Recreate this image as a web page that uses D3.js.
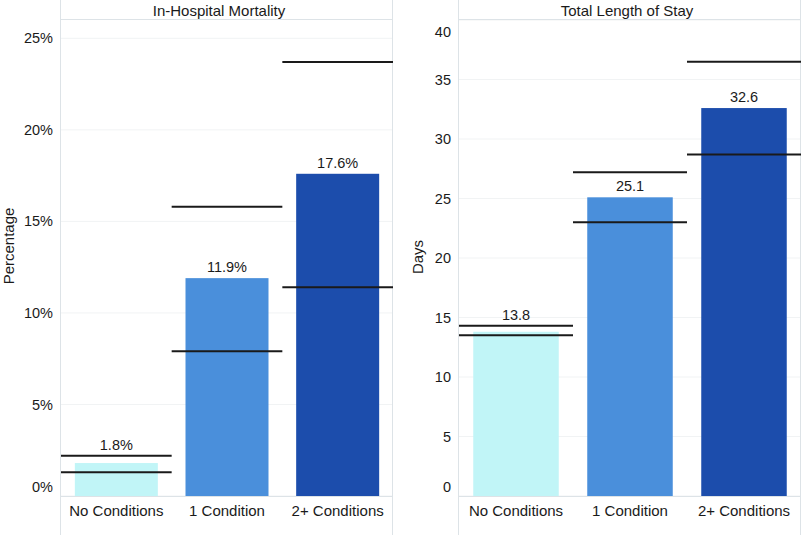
<!DOCTYPE html>
<html>
<head>
<meta charset="utf-8">
<script src="https://cdn.jsdelivr.net/npm/d3@7"></script>
<style>
  html, body { margin: 0; padding: 0; background: #fff; }
  svg { display: block; font-family: 'Liberation Sans', Arial, sans-serif; }
</style>
</head>
<body>
<div id="chart"></div>
<script>
// categories and values
const categories = ['No Conditions', '1 Condition', '2+ Conditions']
const barColors = ['#c1f5f7', '#4a8fdb', '#1c4dac']

const mortality = [1.8, 11.9, 17.6]
const mortalityLower = [1.3, 7.9, 11.4]
const mortalityUpper = [2.2, 15.8, 23.7]
const mortalityTicks = [0, 5, 10, 15, 20, 25]

const stay = [13.8, 25.1, 32.6]
const stayLower = [13.5, 23.0, 28.7]
const stayUpper = [14.3, 27.2, 36.5]
const stayTicks = [0, 5, 10, 15, 20, 25, 30, 35, 40]

const W = 802
const H = 535
const BORDER = '#dde3e7'

const svg = d3.select('#chart')
  .append('svg')
  .attr('width', W)
  .attr('height', H)

function drawPanel (opts) {
  const { x0, x1, top, bottom, title, titleX, yLabel, yLabelX, yLabelY, values, lower, upper, ticks, max, fmt } = opts

  const x = d3.scaleBand().domain(categories).range([x0, x1]).padding(0)
  const y = d3.scaleLinear().domain([0, max]).range([bottom, top])

  const g = svg.append('g').attr('class', 'panel')

  // grid
  g.append('g')
    .selectAll('line')
    .data(ticks)
    .join('line')
    .attr('x1', x0)
    .attr('x2', x1)
    .attr('y1', d => y(d))
    .attr('y2', d => y(d))
    .attr('stroke', '#f1f3f4')
    .attr('stroke-width', 1)

  // borders and strip
  g.append('line').attr('x1', x0 - 0.5).attr('x2', x0 - 0.5).attr('y1', 0).attr('y2', H)
    .attr('stroke', BORDER)
  g.append('line').attr('x1', x1 - 0.5).attr('x2', x1 - 0.5).attr('y1', 0).attr('y2', H)
    .attr('stroke', BORDER)
  g.append('line').attr('x1', x0).attr('x2', x1).attr('y1', top - 0.5).attr('y2', top - 0.5)
    .attr('stroke', BORDER)
  g.append('line').attr('x1', x0).attr('x2', x1).attr('y1', bottom + 0.5).attr('y2', bottom + 0.5)
    .attr('stroke', BORDER)

  g.append('text')
    .attr('x', titleX)
    .attr('y', 16)
    .attr('text-anchor', 'middle')
    .attr('font-size', 15)
    .attr('fill', '#1a1a1a')
    .text(title)

  // bars
  const barW = x.bandwidth() * 0.75
  g.append('g')
    .selectAll('rect')
    .data(categories)
    .join('rect')
    .attr('x', d => x(d) + (x.bandwidth() - barW) / 2)
    .attr('width', barW)
    .attr('y', (d, i) => y(values[i]))
    .attr('height', (d, i) => y(0) - y(values[i]))
    .attr('fill', (d, i) => barColors[i])

  // interval lines
  const ci = g.append('g')
  ci.selectAll('.lo')
    .data(categories)
    .join('line')
    .attr('class', 'lo')
    .attr('x1', d => x(d))
    .attr('x2', d => x(d) + x.bandwidth())
    .attr('y1', (d, i) => y(lower[i]))
    .attr('y2', (d, i) => y(lower[i]))
    .attr('stroke', '#1a1a1a')
    .attr('stroke-width', 2)
  ci.selectAll('.hi')
    .data(categories)
    .join('line')
    .attr('class', 'hi')
    .attr('x1', d => x(d))
    .attr('x2', d => x(d) + x.bandwidth())
    .attr('y1', (d, i) => y(upper[i]))
    .attr('y2', (d, i) => y(upper[i]))
    .attr('stroke', '#1a1a1a')
    .attr('stroke-width', 2)

  // value labels, lifted above the interval line when it sits close
  g.append('g')
    .selectAll('text')
    .data(categories)
    .join('text')
    .attr('x', d => x(d) + x.bandwidth() / 2)
    .attr('y', (d, i) => {
      const yb = y(values[i])
      const yu = y(upper[i])
      return (yb - yu < 20 ? yu : yb) - 6
    })
    .attr('text-anchor', 'middle')
    .attr('font-size', 14.5)
    .attr('fill', '#1a1a1a')
    .text((d, i) => fmt(values[i]))

  // y tick labels
  g.append('g')
    .selectAll('text')
    .data(ticks)
    .join('text')
    .attr('x', x0 - 8)
    .attr('y', d => y(d))
    .attr('dy', d => d === 0 ? '-0.25em' : d === max ? '1.15em' : '0.35em')
    .attr('text-anchor', 'end')
    .attr('font-size', 14.5)
    .attr('fill', '#1a1a1a')
    .text(d => opts.tickFmt(d))

  // category labels
  g.append('g')
    .selectAll('text')
    .data(categories)
    .join('text')
    .attr('x', d => x(d) + x.bandwidth() / 2)
    .attr('y', bottom + 20)
    .attr('text-anchor', 'middle')
    .attr('font-size', 15)
    .attr('fill', '#1a1a1a')
    .text(d => d)

  g.append('text')
    .attr('transform', `translate(${yLabelX},${yLabelY}) rotate(-90)`)
    .attr('text-anchor', 'middle')
    .attr('font-size', 15)
    .attr('fill', '#1a1a1a')
    .text(yLabel)
}

drawPanel({
  x0: 61,
  x1: 393,
  top: 20,
  bottom: 496,
  title: 'In-Hospital Mortality',
  titleX: 219,
  yLabel: 'Percentage',
  yLabelX: 14,
  yLabelY: 246,
  values: mortality,
  lower: mortalityLower,
  upper: mortalityUpper,
  ticks: mortalityTicks,
  max: 26,
  fmt: v => v.toFixed(1) + '%',
  tickFmt: v => v + '%'
})

drawPanel({
  x0: 459,
  x1: 801,
  top: 20,
  bottom: 496,
  title: 'Total Length of Stay',
  titleX: 627,
  yLabel: 'Days',
  yLabelX: 423,
  yLabelY: 257,
  values: stay,
  lower: stayLower,
  upper: stayUpper,
  ticks: stayTicks,
  max: 40,
  fmt: v => v.toFixed(1),
  tickFmt: v => String(v)
})
</script>
</body>
</html>
